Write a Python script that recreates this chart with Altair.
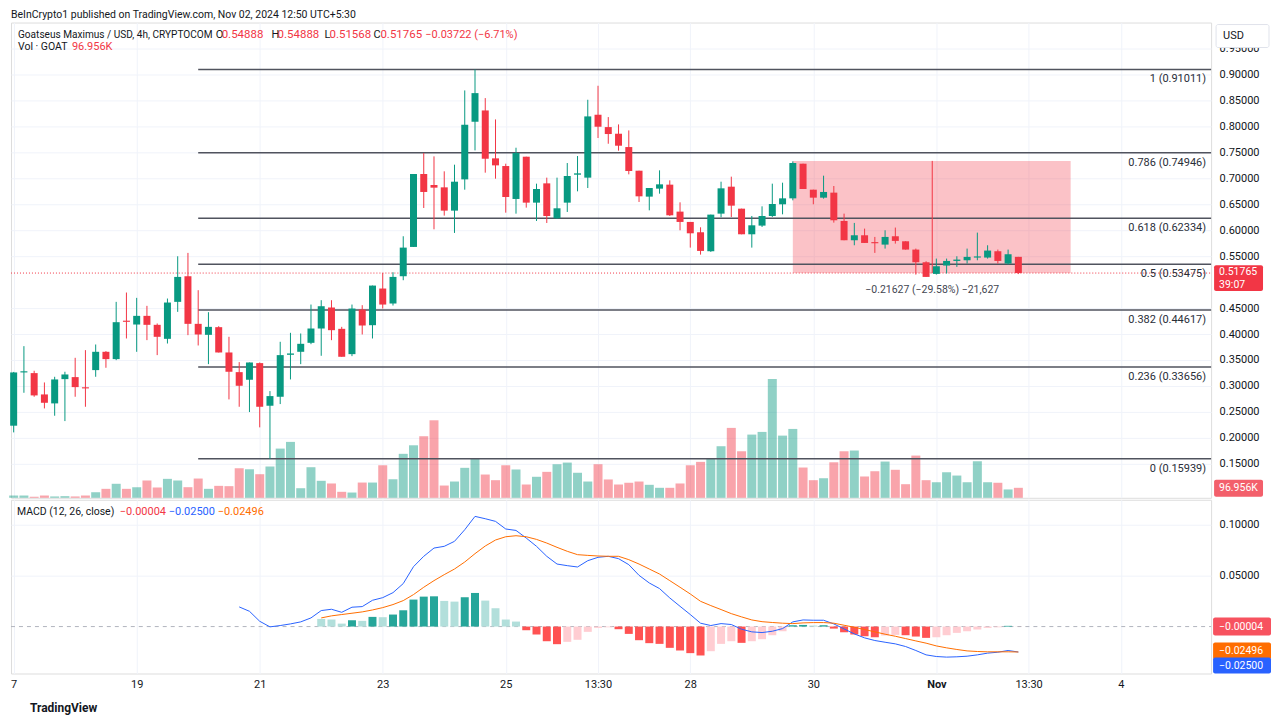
import altair as alt
import pandas as pd

FONT = "Roboto"
TXT = "#131722"
UP = "#089981"
DN = "#f23645"

# ---------------- data ----------------
opens = [0.2233, 0.3260, 0.3247, 0.2836, 0.2663, 0.3131, 0.3170, 0.2971, 0.3305, 0.3658,
         0.3517, 0.4249, 0.4184, 0.4351, 0.4178, 0.3908, 0.4621, 0.5115, 0.4197, 0.3985,
         0.4133, 0.3645, 0.3266, 0.3119, 0.3440, 0.2618, 0.2791, 0.3600, 0.3658, 0.3831,
         0.4107, 0.4512, 0.4101, 0.3613, 0.4473, 0.4171, 0.4878, 0.4589, 0.5115, 0.5680,
         0.7086, 0.6874, 0.6829, 0.6380, 0.6983, 0.8094, 0.8312, 0.7388, 0.7240, 0.6605,
         0.7420, 0.6534, 0.6906, 0.6232, 0.6534, 0.7073, 0.7016, 0.8229, 0.7991, 0.7863,
         0.7606, 0.7150, 0.6650, 0.6804, 0.6881, 0.6361, 0.6162, 0.5963, 0.5597, 0.6322,
         0.6842, 0.6418, 0.5924, 0.6091, 0.6277, 0.6502, 0.6617, 0.7285, 0.6784, 0.6630,
         0.6727, 0.6181, 0.5809, 0.5905, 0.5764, 0.5725, 0.5886, 0.5789, 0.5629, 0.5385,
         0.5160, 0.5321, 0.5410, 0.5423, 0.5475, 0.5475, 0.5597, 0.5359, 0.54888]
highs = [0.3270, 0.3767, 0.3292, 0.3067, 0.3176, 0.3273, 0.3542, 0.3690, 0.3799, 0.3671,
         0.4621, 0.4801, 0.4698, 0.4544, 0.4204, 0.4685, 0.5500, 0.5565, 0.4846, 0.4422,
         0.4152, 0.3947, 0.3459, 0.3452, 0.3452, 0.2900, 0.3851, 0.4024, 0.4011, 0.4569,
         0.4653, 0.4653, 0.4139, 0.4569, 0.4557, 0.4935, 0.5179, 0.5192, 0.5886, 0.7086,
         0.7491, 0.7426, 0.7138, 0.7266, 0.8698, 0.9101, 0.8550, 0.8139, 0.7285, 0.7593,
         0.7420, 0.6900, 0.7016, 0.7016, 0.7298, 0.7433, 0.8518, 0.8788, 0.8184, 0.8043,
         0.7927, 0.7150, 0.6816, 0.7157, 0.6964, 0.6540, 0.6162, 0.6059, 0.6303, 0.6938,
         0.7035, 0.6418, 0.6277, 0.6463, 0.6900, 0.6919, 0.7330, 0.7285, 0.6784, 0.7054,
         0.6855, 0.6322, 0.6143, 0.6033, 0.5873, 0.6001, 0.6053, 0.5789, 0.5648, 0.5404,
         0.5455, 0.5455, 0.5500, 0.5648, 0.5956, 0.5712, 0.5629, 0.5629, 0.54888]
lows = [0.2104, 0.2868, 0.2791, 0.2566, 0.2425, 0.2322, 0.2791, 0.2598, 0.3176, 0.3350,
        0.3497, 0.3915, 0.3658, 0.3883, 0.3594, 0.3818, 0.4428, 0.3979, 0.3780, 0.3420,
        0.3645, 0.2740, 0.2598, 0.2496, 0.2201, 0.1594, 0.2650, 0.3125, 0.3420, 0.3805,
        0.3581, 0.3882, 0.3562, 0.3574, 0.3992, 0.3915, 0.4492, 0.4550, 0.5038, 0.5680,
        0.6431, 0.6020, 0.6284, 0.5950, 0.6784, 0.7542, 0.7112, 0.6996, 0.6341, 0.6322,
        0.6438, 0.6181, 0.6142, 0.6220, 0.6354, 0.6752, 0.6816, 0.7780, 0.7670, 0.7536,
        0.7080, 0.6547, 0.6386, 0.6707, 0.6277, 0.6001, 0.5667, 0.5532, 0.5584, 0.6252,
        0.6258, 0.5924, 0.5667, 0.6065, 0.6258, 0.6309, 0.6579, 0.6797, 0.6502, 0.6611,
        0.6149, 0.5809, 0.5712, 0.5757, 0.5565, 0.5648, 0.5744, 0.5629, 0.5147, 0.5102,
        0.5147, 0.5167, 0.5295, 0.5359, 0.5423, 0.5455, 0.5359, 0.5340, 0.51568]
closes = [0.3260, 0.3273, 0.2817, 0.2675, 0.3125, 0.3221, 0.2977, 0.2952, 0.3658, 0.3517,
          0.4229, 0.4236, 0.4351, 0.4178, 0.3947, 0.4608, 0.5102, 0.4197, 0.3992, 0.4139,
          0.3645, 0.3273, 0.3003, 0.3452, 0.2598, 0.2804, 0.3594, 0.3626, 0.3812, 0.4107,
          0.4537, 0.4075, 0.3562, 0.4492, 0.4165, 0.4935, 0.4569, 0.5102, 0.5667, 0.7086,
          0.6740, 0.6823, 0.6380, 0.6938, 0.8036, 0.8646, 0.7381, 0.7253, 0.6643, 0.7491,
          0.6534, 0.6797, 0.6277, 0.6425, 0.7048, 0.7099, 0.8197, 0.7998, 0.7857, 0.7632,
          0.7144, 0.6656, 0.6816, 0.6887, 0.6290, 0.6162, 0.5943, 0.5603, 0.6303, 0.6810,
          0.6476, 0.5924, 0.6097, 0.6277, 0.6508, 0.6617, 0.7298, 0.6797, 0.6630, 0.6740,
          0.6194, 0.5809, 0.5905, 0.5757, 0.5751, 0.5873, 0.5796, 0.5629, 0.5385, 0.5102,
          0.5308, 0.5410, 0.5436, 0.5488, 0.5494, 0.5610, 0.5410, 0.5539, 0.51765]
volumes_k = [22, 22, 10, 22, 13, 16, 13, 22, 54, 87, 136, 87, 103, 168, 100, 184, 168, 103, 187, 87,
             116, 113, 287, 277, 229, 304, 478, 543, 93, 297, 165, 139, 58, 51, 148, 148, 316, 180,
             427, 510, 598, 753, 119, 158, 291, 384, 226, 171, 316, 275, 129, 204, 252, 326, 342,
             243, 158, 326, 178, 129, 146, 158, 126, 97, 97, 139, 316, 349, 384, 501, 679, 452, 614,
             640, 1154, 604, 669, 294, 171, 190, 345, 452, 459, 207, 258, 352, 272, 132, 410, 171,
             151, 248, 216, 151, 355, 151, 146, 81, 96.956]

macd_start = 22
macd_vals = [0.0193, 0.0150, 0.0052, -0.0003, 0.0010, 0.0026, 0.0046, 0.0085, 0.0157, 0.0170,
             0.0140, 0.0190, 0.0196, 0.0258, 0.0284, 0.0333, 0.0422, 0.0588, 0.0690, 0.0771,
             0.0788, 0.0837, 0.0951, 0.1082, 0.1059, 0.1033, 0.0958, 0.0944, 0.0869, 0.0788,
             0.0690, 0.0614, 0.0598, 0.0585, 0.0647, 0.0680, 0.0690, 0.0667, 0.0608, 0.0503,
             0.0428, 0.0373, 0.0281, 0.0199, 0.0118, 0.0033, 0.0010, 0.0029, 0.0020, -0.0026,
             -0.0052, -0.0059, -0.0046, -0.0020, 0.0046, 0.0065, 0.0062, 0.0062, 0.0026, -0.0023,
             -0.0072, -0.0111, -0.0137, -0.0154, -0.0170, -0.0196, -0.0235, -0.0278, -0.0294, -0.0300,
             -0.0297, -0.0291, -0.0278, -0.0261, -0.0252, -0.0235, -0.0250]
signal_start = 30
signal_vals = [0.0085, 0.0105, 0.0118, 0.0131, 0.0144, 0.0163, 0.0186, 0.0216, 0.0255, 0.0314,
               0.0386, 0.0451, 0.0510, 0.0565, 0.0634, 0.0716, 0.0791, 0.0850, 0.0882, 0.0892,
               0.0882, 0.0856, 0.0820, 0.0778, 0.0739, 0.0706, 0.0699, 0.0693, 0.0690, 0.0690,
               0.0657, 0.0614, 0.0565, 0.0516, 0.0451, 0.0386, 0.0320, 0.0248, 0.0206, 0.0167,
               0.0127, 0.0095, 0.0065, 0.0048, 0.0040, 0.0033, 0.0029, 0.0036, 0.0039, 0.0039,
               0.0033, 0.0013, -0.0007, -0.0029, -0.0052, -0.0075, -0.0095, -0.0118, -0.0141, -0.0163,
               -0.0190, -0.0209, -0.0225, -0.0239, -0.0245, -0.0248, -0.0248, -0.0248, -0.02496]
hist_start = 30
hist_vals = [0.0075, 0.0069, 0.0029, 0.0062, 0.0056, 0.0095, 0.0092, 0.0118, 0.0160, 0.0265,
             0.0294, 0.0297, 0.0252, 0.0245, 0.0288, 0.0330, 0.0255, 0.0180, 0.0069, 0.0049,
             -0.0036, -0.0078, -0.0144, -0.0173, -0.0150, -0.0130, -0.0052, -0.0013, -0.0007, -0.0026,
             -0.0072, -0.0134, -0.0163, -0.0170, -0.0209, -0.0235, -0.0261, -0.0284, -0.0242, -0.0170,
             -0.0144, -0.0160, -0.0144, -0.0124, -0.0085, -0.0046, 0.0013, 0.0016, 0.0010, 0.0013,
             -0.0020, -0.0056, -0.0078, -0.0095, -0.0105, -0.0088, -0.0082, -0.0085, -0.0098, -0.0111,
             -0.0105, -0.0085, -0.0062, -0.0046, -0.0029, -0.0013, -0.0007, 0.0007, -0.00004]

fib_ratios = ["1", "0.786", "0.618", "0.5", "0.382", "0.236", "0"]
fib_prices = [0.91011, 0.74946, 0.62334, 0.53475, 0.44617, 0.33656, 0.15939]
fib_start_bar = 18

xtick_bars = [0, 12, 24, 36, 48, 57, 66, 78, 90, 99, 108]
xtick_labels = ["7", "19", "21", "23", "25", "13:30", "28", "30", "Nov", "13:30", "4"]
# 0.50 is hidden behind the last-price tag in the reference
price_ticks = [0.15, 0.20, 0.25, 0.30, 0.35, 0.40, 0.45, 0.55, 0.60,
               0.65, 0.70, 0.75, 0.80, 0.85, 0.90, 0.95]
macd_ticks = [0.05, 0.10]

last_close = 0.51765
range_top = 0.73392
range_start_bar = 76
range_end_bar = 103.1
range_mid_bar = 89.6
range_label = "\u22120.21627 (\u221229.58%) \u221221,627"

# ---------------- frames ----------------
n = len(closes)
cdf = pd.DataFrame({"i": list(range(n)), "o": opens, "h": highs, "l": lows,
                    "c": closes, "vol": volumes_k})
cdf["dir"] = ["up" if c >= o else "down" for o, c in zip(opens, closes)]
cdf["blo"] = cdf[["o", "c"]].min(axis=1)
cdf["bhi"] = [max(max(o, c), min(o, c) + 0.0022) for o, c in zip(opens, closes)]

fdf = pd.DataFrame({"start": [fib_start_bar] * len(fib_prices), "price": fib_prices,
                    "label": [f"{r} ({p:.5f})" for r, p in zip(fib_ratios, fib_prices)]})
rdf = pd.DataFrame({"x0": [range_start_bar], "x1": [range_end_bar], "xm": [range_mid_bar],
                    "y0": [last_close], "y1": [range_top], "t": [range_label]})
pdf = pd.DataFrame({"p": [last_close]})

mdf = pd.DataFrame({"i": list(range(macd_start, macd_start + len(macd_vals))), "v": macd_vals, "s": "macd"})
sdf = pd.DataFrame({"i": list(range(signal_start, signal_start + len(signal_vals))), "v": signal_vals, "s": "signal"})
lines_df = pd.concat([mdf, sdf], ignore_index=True)

hcat = []
for k, v in enumerate(hist_vals):
    prev = hist_vals[k - 1] if k > 0 else None
    grow = prev is not None and prev < v
    if v >= 0:
        hcat.append("ga" if grow else "fa")
    else:
        hcat.append("gb" if grow else "fb")
hdf = pd.DataFrame({"i": list(range(hist_start, hist_start + len(hist_vals))), "h": hist_vals, "cat": hcat})

one = pd.DataFrame({"k": [0]})

# ---------------- geometry ----------------
W, H1, H2 = 1202, 476, 174
xscale = alt.Scale(domain=[-0.26, 116.8], nice=False, zero=False, padding=0)
pscale = alt.Scale(domain=[0.0843, 1.0007], nice=False, zero=False)
vscale = alt.Scale(domain=[0, H1 * 9.7], nice=False)
mscale = alt.Scale(domain=[-0.0461, 0.1245], nice=False, zero=False)

GRID = "#f0f3fa"
top_xaxis = alt.Axis(values=xtick_bars, labels=False, ticks=False, domain=False,
                     grid=True, gridColor=GRID, title=None)
price_axis = alt.Axis(orient="right", values=price_ticks, format=".5f", labelPadding=8,
                      ticks=False, domain=False, grid=True, gridColor=GRID, title=None,
                      labelFont=FONT, labelFontSize=11, labelColor=TXT)
dir_color = alt.Color("dir:N", scale=alt.Scale(domain=["up", "down"], range=[UP, DN]), legend=None)


def X(f):
    return alt.X(f, scale=xscale, axis=top_xaxis)


def Y(f):
    return alt.Y(f, scale=pscale, axis=price_axis)


def label(txt, x, y, color=TXT, size=11, align="left", weight="normal"):
    return alt.Chart(one).mark_text(text=txt, align=align, baseline="middle", fontSize=size,
                                    color=color, font=FONT, fontWeight=weight).encode(
        x=alt.value(x), y=alt.value(y))


def box(x0, x1, y0, y1, fill, stroke=None):
    kw = {"stroke": stroke, "strokeWidth": 1} if stroke else {}
    return alt.Chart(one).mark_rect(color=fill, cornerRadius=2, **kw).encode(
        x=alt.value(x0), x2=alt.value(x1), y=alt.value(y0), y2=alt.value(y1))


base = alt.Chart(cdf)

vol = base.mark_bar(size=9, opacity=0.45).encode(
    x=X("i:Q"), y=alt.Y("vol:Q", scale=vscale, axis=None), color=dir_color)

range_rect = alt.Chart(rdf).mark_rect(color=DN, opacity=0.3).encode(
    x=X("x0:Q"), x2="x1:Q", y=Y("y0:Q"), y2="y1:Q")
range_rule = alt.Chart(rdf).mark_rule(color=DN, strokeWidth=1).encode(
    x=X("xm:Q"), y=Y("y0:Q"), y2="y1:Q")
range_text = alt.Chart(rdf).mark_text(font=FONT, fontSize=10.5, color="#434651", dy=17,
                                      baseline="middle").encode(
    x=X("xm:Q"), y=Y("y0:Q"), text="t:N")

fib_rules = alt.Chart(fdf).mark_rule(color="#50535e", strokeWidth=1.5).encode(
    x=X("start:Q"), x2=alt.value(W), y=Y("price:Q"))
fib_text = alt.Chart(fdf).mark_text(font=FONT, fontSize=11, color="#2a2e39", align="right",
                                    baseline="middle", dy=10).encode(
    x=alt.value(W - 5), y=Y("price:Q"), text="label:N")

last_rule = alt.Chart(pdf).mark_rule(color=DN, strokeWidth=1, strokeDash=[1, 2]).encode(
    x=alt.value(0), x2=alt.value(W), y=Y("p:Q"))

wicks = base.mark_rule(strokeWidth=1).encode(x=X("i:Q"), y=Y("l:Q"), y2="h:Q", color=dir_color)
bodies = base.mark_bar(size=7).encode(x=X("i:Q"), y=Y("blo:Q"), y2="bhi:Q", color=dir_color)

price_layers = alt.layer(
    range_rect, fib_rules, last_rule, range_rule, wicks, bodies, fib_text, range_text,
    label("BeInCrypto1 published on TradingView.com, Nov 02, 2024 12:50 UTC+5:30", 0, -8, size=10.5),
    label("Goatseus Maximus / USD, 4h, CRYPTOCOM", 7, 12, size=10.1),
    label("O", 205, 12), label("0.54888", 211, 12, color=DN, size=11.5),
    label("H", 261, 12), label("0.54888", 267, 12, color=DN, size=11.5),
    label("L", 314, 12), label("0.51568", 319, 12, color=DN, size=11.5),
    label("C", 363, 12), label("0.51765", 370, 12, color=DN, size=11.5),
    label("\u22120.03722 (\u22126.71%)", 415, 12, color=DN, size=11),
    label("Vol \u00b7 GOAT", 7, 25, size=10.5), label("96.956K", 61, 25, color=DN, size=11),
    box(W + 5, W + 58, 2, 25, "white", stroke="#e0e3eb"),
    label("USD", W + 12, 13),
    box(W + 3, W + 52, 243, 269, DN),
    label("0.51765", W + 8, 249.5, color="white", size=10.5),
    label("39:07", W + 8, 262.5, color="white", size=10.5),
    box(W + 3, W + 52, 458, 475, "#f35f6b"),
    label("96.956K", W + 8, 466.5, color="white", size=10.5),
)

top = alt.layer(vol, price_layers).resolve_scale(y="independent").properties(width=W, height=H1)

# ---------------- MACD pane ----------------
cond_weight = {"condition": {"test": "datum.value == 90", "value": "bold"}, "value": "normal"}
label_expr = "".join(f"datum.value == {v} ? '{t}' : " for v, t in zip(xtick_bars, xtick_labels)) + "''"
bot_xaxis = alt.Axis(values=xtick_bars, labelExpr=label_expr, grid=True, gridColor=GRID, ticks=False,
                     domain=False, labelPadding=5, title=None, labelFlush=False, labelOverlap=False,
                     labelFont=FONT, labelFontSize=11, labelColor=TXT, labelFontWeight=cond_weight)
macd_axis = alt.Axis(orient="right", values=macd_ticks, format=".5f", labelPadding=8, ticks=False,
                     domain=False, grid=True, gridColor=GRID, title=None, labelFont=FONT,
                     labelFontSize=11, labelColor=TXT)


def MX(f):
    return alt.X(f, scale=xscale, axis=bot_xaxis)


def MY(f):
    return alt.Y(f, scale=mscale, axis=macd_axis)


zero_df = pd.DataFrame({"z": [0.0]})
zero_rule = alt.Chart(zero_df).mark_rule(color="#b2b5be", strokeDash=[4, 4], strokeWidth=1).encode(
    x=alt.value(0), x2=alt.value(W), y=MY("z:Q"))
hist = alt.Chart(hdf).mark_bar(size=8).encode(
    x=MX("i:Q"), y=MY("h:Q"),
    color=alt.Color("cat:N", scale=alt.Scale(domain=["ga", "fa", "gb", "fb"],
                                             range=["#26a69a", "#b2dfdb", "#ffcdd2", "#ff5252"]),
                    legend=None))
lines = alt.Chart(lines_df).mark_line(strokeWidth=1).encode(
    x=MX("i:Q"), y=MY("v:Q"),
    color=alt.Color("s:N", scale=alt.Scale(domain=["macd", "signal"], range=["#2962ff", "#ff6d00"]),
                    legend=None))

bottom = alt.layer(
    zero_rule, hist, lines,
    label("MACD (12, 26, close)", 6, 12, size=10.5),
    label("\u22120.00004", 109, 12, color=DN, size=11),
    label("\u22120.02500", 158, 12, color="#2962ff", size=11),
    label("\u22120.02496", 207, 12, color="#ff6d00", size=11),
    box(W + 2, W + 60, 118, 136, "#f7525f"),
    label("\u22120.00004", W + 8, 127, color="white", size=10.5),
    box(W + 2, W + 60, 143, 160, "#ff6d00"),
    label("\u22120.02496", W + 8, 151.5, color="white", size=10.5),
    box(W + 2, W + 60, 158, 174, "#2962ff"),
    label("\u22120.02500", W + 8, 166, color="white", size=10.5),
    label("TradingView", 19, 209, size=12, weight="bold"),
).resolve_scale(color="independent").properties(width=W, height=H2)

chart = alt.vconcat(top, bottom, spacing=2, bounds="flush").resolve_scale(
    color="independent"
).properties(
    padding={"left": 0, "top": 0, "right": 0, "bottom": 0}
).configure_view(stroke="#e0e3eb").configure(background="white")

chart.save("out.html", embed_options={"renderer": "svg", "actions": False})
